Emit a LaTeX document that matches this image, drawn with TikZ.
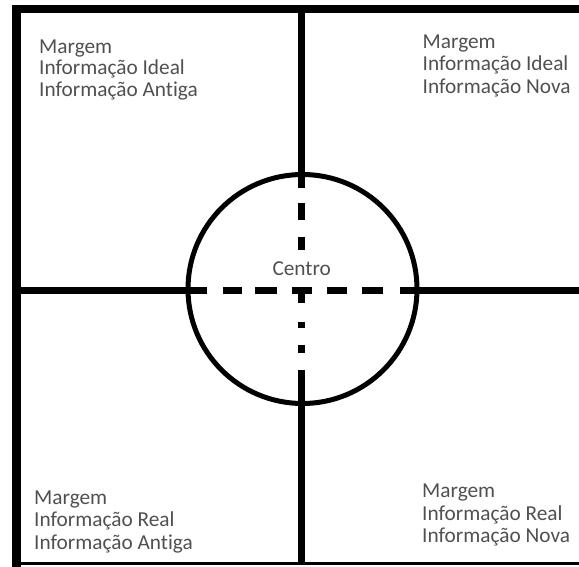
\documentclass[tikz,border=0pt]{standalone}
\usepackage{fontspec}
\setmainfont[Ligatures=NoCommon]{Carlito}
\definecolor{txt}{HTML}{505050}
\begin{document}
\begin{tikzpicture}[x=1pt,y=-1pt,
  lbl/.style={anchor=base west,inner sep=0pt,text=txt,font=\fontsize{21.3}{22}\selectfont},
  frame/.style={line width=#1,draw=black,line cap=butt}]
\useasboundingbox (0,0) rectangle (579,567);
% outer frame
\draw[frame=8pt] (12,9) -- (590,9);
\draw[frame=9pt] (16.5,5) -- (16.5,567);
\draw[frame=3.5pt] (12,563.5) -- (590,563.5);
% circle
\node[circle,draw=black,line width=5pt,minimum size=229pt,inner sep=0pt] (c) at (302.5,289) {};
% horizontal line (solid outside, dashed inside)
\coordinate (hl) at (16,290.5);
\coordinate (hr) at (590,290.5);
\draw[line width=7pt] (hl) -- (207,290.5);
\foreach \a/\b in {223/242,255/277,292/312,327/347,362/383}
  \draw[line width=7pt] (\a,290.5) -- (\b,290.5);
\draw[line width=7pt] (400,290.5) -- (hr);
% vertical line
\coordinate (vt) at (301.5,9);
\coordinate (vb) at (301.5,563);
\draw[line width=6.5pt] (vt) -- (301.5,188);
\foreach \a/\b in {203/220,237/250,290/303,322/328,345/353}
  \draw[line width=6.5pt] (301.5,\a) -- (301.5,\b);
\draw[line width=6.5pt] (301.5,370) -- (vb);
% texts
\node[lbl] (tl1) at (39,53.3) {Margem};
\node[lbl] (tl2) at (39,75) {Informação Ideal};
\node[lbl] (tl3) at (39,96.7) {Informação Antiga};
\node[lbl] (tr1) at (422.5,48.5) {Margem};
\node[lbl] (tr2) at (422.5,71) {Informação Ideal};
\node[lbl] (tr3) at (422.5,93.5) {Informação Nova};
\node[lbl] (bl1) at (34,504.3) {Margem};
\node[lbl] (bl2) at (34,526.7) {Informação Real};
\node[lbl] (bl3) at (34,549.3) {Informação Antiga};
\node[lbl] (br1) at (422,497.7) {Margem};
\node[lbl] (br2) at (422,520) {Informação Real};
\node[lbl] (br3) at (422,542.7) {Informação Nova};
\node[lbl,anchor=base] (ce) at (301.7,275.3) {Centro};
\end{tikzpicture}
\end{document}
